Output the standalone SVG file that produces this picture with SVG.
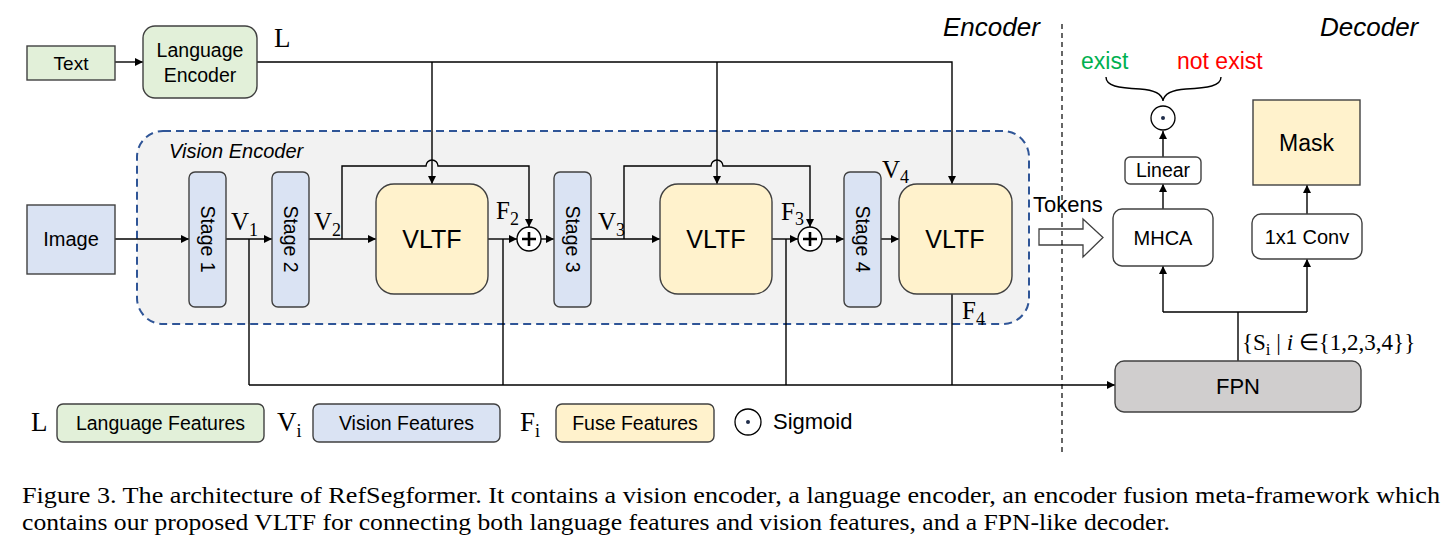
<svg xmlns="http://www.w3.org/2000/svg" width="1450" height="550" viewBox="0 0 1450 550">
<style>
.s{font-family:"Liberation Sans",Arial,sans-serif;fill:#000}
.m{font-family:"Liberation Serif","Times New Roman",serif;fill:#000}
.box{stroke:#404040;stroke-width:1.4}
.ln{fill:none;stroke:#000;stroke-width:1.4}
.g{fill:#e2f0d9}
.b{fill:#dae3f3}
.y{fill:#fff2cc}
.w{fill:#fff}
</style>
<defs>
<marker id="ar" viewBox="0 0 10 10" refX="10" refY="5" markerWidth="9" markerHeight="8" markerUnits="userSpaceOnUse" orient="auto">
<path d="M0,0 L10,5 L0,10 z" fill="#000"/>
</marker>
</defs>
<rect width="1450" height="550" fill="#fff"/>

<g id="vision-encoder">
<rect x="137" y="131" width="892" height="193" rx="26" fill="#f2f2f2" stroke="#2f5597" stroke-width="2" stroke-dasharray="8 5"/>
<text class="s" x="169" y="158" font-size="20" font-style="italic">Vision Encoder</text>
</g>

<g id="connectors">
<line class="ln" x1="115" y1="62" x2="143" y2="62" marker-end="url(#ar)"/>
<polyline class="ln" points="257,62 952,62 952,184" marker-end="url(#ar)"/>
<line class="ln" x1="432" y1="62" x2="432" y2="184" marker-end="url(#ar)"/>
<line class="ln" x1="717" y1="62" x2="717" y2="184" marker-end="url(#ar)"/>
<line class="ln" x1="115" y1="239" x2="189" y2="239" marker-end="url(#ar)"/>
<line class="ln" x1="226" y1="239" x2="272" y2="239" marker-end="url(#ar)"/>
<line class="ln" x1="309" y1="239" x2="376" y2="239" marker-end="url(#ar)"/>
<line class="ln" x1="488" y1="239" x2="517" y2="239" marker-end="url(#ar)"/>
<line class="ln" x1="541" y1="239" x2="554" y2="239" marker-end="url(#ar)"/>
<line class="ln" x1="591" y1="239" x2="660" y2="239" marker-end="url(#ar)"/>
<line class="ln" x1="772" y1="239" x2="798" y2="239" marker-end="url(#ar)"/>
<line class="ln" x1="822" y1="239" x2="844" y2="239" marker-end="url(#ar)"/>
<line class="ln" x1="881" y1="239" x2="899" y2="239" marker-end="url(#ar)"/>
<path class="ln" d="M342,239 V166 H426 A6,6 0 0 1 438,166 H529 V227" marker-end="url(#ar)"/>
<path class="ln" d="M624,239 V166 H711 A6,6 0 0 1 723,166 H810 V227" marker-end="url(#ar)"/>
<line class="ln" x1="249" y1="239" x2="249" y2="385"/>
<line class="ln" x1="503" y1="239" x2="503" y2="385"/>
<line class="ln" x1="786" y1="239" x2="786" y2="385"/>
<line class="ln" x1="952" y1="294" x2="952" y2="385"/>
<line class="ln" x1="249" y1="385" x2="1115" y2="385" marker-end="url(#ar)"/>
<line class="ln" x1="1238" y1="361" x2="1238" y2="312"/>
<polyline class="ln" points="1163,312 1307,312"/>
<line class="ln" x1="1163" y1="312" x2="1163" y2="266" marker-end="url(#ar)"/>
<line class="ln" x1="1307" y1="312" x2="1307" y2="259" marker-end="url(#ar)"/>
<line class="ln" x1="1307" y1="214" x2="1307" y2="185" marker-end="url(#ar)"/>
<line class="ln" x1="1163" y1="209" x2="1163" y2="184" marker-end="url(#ar)"/>
<line class="ln" x1="1163" y1="157" x2="1163" y2="131" marker-end="url(#ar)"/>
<path d="M1039,229 H1083 V219 L1103,237.5 L1083,257 V245 H1039 Z" fill="#fff" stroke="#404040" stroke-width="1.3"/>
<path class="ln" d="M1106,77 C1106,86 1118,88 1140,89 C1156,90 1162,94 1163,101 C1164,94 1170,90 1186,89 C1208,88 1221,86 1221,77" stroke-width="1.6"/>
<line x1="1062" y1="24" x2="1062" y2="452" stroke="#000" stroke-width="1.2" stroke-dasharray="5 4"/>
</g>

<g id="text-node">
<rect class="box g" x="27" y="46" width="88" height="34"/>
<text class="s" x="71" y="70" font-size="19" text-anchor="middle">Text</text>
</g>
<g id="language-encoder">
<rect class="box g" x="143" y="26" width="114" height="72" rx="12"/>
<text class="s" x="200" y="57" font-size="19.5" text-anchor="middle">Language</text>
<text class="s" x="200" y="82" font-size="19.5" text-anchor="middle">Encoder</text>
</g>
<text class="m" x="274" y="47" font-size="27">L</text>

<g id="image-node">
<rect class="box b" x="27" y="205" width="88" height="69"/>
<text class="s" x="71" y="246" font-size="20" text-anchor="middle">Image</text>
</g>

<g id="stage1">
<rect class="box b" x="189" y="172" width="37" height="135" rx="6"/>
<text class="s" font-size="19.5" text-anchor="middle" dominant-baseline="central" transform="translate(207.5,239) rotate(90)">Stage 1</text>
</g>
<g id="stage2">
<rect class="box b" x="272" y="172" width="37" height="135" rx="6"/>
<text class="s" font-size="19.5" text-anchor="middle" dominant-baseline="central" transform="translate(290.5,239) rotate(90)">Stage 2</text>
</g>
<g id="stage3">
<rect class="box b" x="554" y="172" width="37" height="135" rx="6"/>
<text class="s" font-size="19.5" text-anchor="middle" dominant-baseline="central" transform="translate(572.5,239) rotate(90)">Stage 3</text>
</g>
<g id="stage4">
<rect class="box b" x="844" y="172" width="37" height="135" rx="6"/>
<text class="s" font-size="19.5" text-anchor="middle" dominant-baseline="central" transform="translate(862.5,239) rotate(90)">Stage 4</text>
</g>

<g id="vltf1">
<rect class="box y" x="376" y="184" width="112" height="110" rx="18"/>
<text class="s" x="432" y="248" font-size="25" text-anchor="middle">VLTF</text>
</g>
<g id="vltf2">
<rect class="box y" x="660" y="184" width="112" height="110" rx="18"/>
<text class="s" x="716" y="248" font-size="25" text-anchor="middle">VLTF</text>
</g>
<g id="vltf3">
<rect class="box y" x="899" y="184" width="113" height="110" rx="18"/>
<text class="s" x="955" y="248" font-size="25" text-anchor="middle">VLTF</text>
</g>

<g id="plus1">
<circle cx="529" cy="239" r="12" fill="#fff" stroke="#000" stroke-width="1.4"/>
<path d="M522,239 H536 M529,232 V246" stroke="#000" stroke-width="2.6"/>
</g>
<g id="plus2">
<circle cx="810" cy="239" r="12" fill="#fff" stroke="#000" stroke-width="1.4"/>
<path d="M803,239 H817 M810,232 V246" stroke="#000" stroke-width="2.6"/>
</g>

<g id="feature-labels">
<text class="m" x="231" y="230" font-size="25">V<tspan font-size="18" dy="6">1</tspan></text>
<text class="m" x="314" y="230" font-size="25">V<tspan font-size="18" dy="6">2</tspan></text>
<text class="m" x="496" y="219" font-size="25">F<tspan font-size="18" dy="6">2</tspan></text>
<text class="m" x="598" y="230" font-size="25">V<tspan font-size="18" dy="6">3</tspan></text>
<text class="m" x="781" y="220" font-size="25">F<tspan font-size="18" dy="5">3</tspan></text>
<text class="m" x="882" y="178" font-size="25">V<tspan font-size="18" dy="5">4</tspan></text>
<text class="m" x="962" y="319" font-size="25">F<tspan font-size="18" dy="6">4</tspan></text>
</g>

<text class="s" x="943" y="36" font-size="26" font-style="italic">Encoder</text>
<text class="s" x="1320" y="36" font-size="26" font-style="italic">Decoder</text>
<text class="s" x="1033" y="212" font-size="22">Tokens</text>

<g id="mhca">
<rect class="box w" x="1113" y="209" width="100" height="57" rx="9"/>
<text class="s" x="1163" y="245" font-size="20" text-anchor="middle">MHCA</text>
</g>
<g id="linear">
<rect class="box w" x="1125" y="157" width="76" height="27" rx="5"/>
<text class="s" x="1163" y="177" font-size="19.5" text-anchor="middle">Linear</text>
</g>
<g id="sigmoid-op">
<circle cx="1163" cy="118" r="12" fill="#fff" stroke="#000" stroke-width="1.3"/>
<circle cx="1163" cy="118" r="2" fill="#1f2d4a"/>
</g>
<text class="s" x="1081" y="69" font-size="23" style="fill:#00b050">exist</text>
<text class="s" x="1177" y="69" font-size="23" style="fill:#ff0000">not exist</text>
<g id="mask">
<rect class="box y" x="1253" y="100" width="107" height="85" stroke="#202020"/>
<text class="s" x="1306.5" y="151" font-size="23" text-anchor="middle">Mask</text>
</g>
<g id="conv">
<rect class="box w" x="1252" y="214" width="110" height="45" rx="9"/>
<text class="s" x="1307" y="244" font-size="20" text-anchor="middle">1x1 Conv</text>
</g>
<g id="fpn">
<rect class="box" x="1115" y="361" width="246" height="51" rx="9" fill="#d0cece"/>
<text class="s" x="1238" y="394" font-size="22" text-anchor="middle">FPN</text>
</g>
<text class="m" x="1242" y="350" font-size="23">{S<tspan font-size="17" dy="5">i</tspan><tspan dy="-5"> | </tspan><tspan font-style="italic">i</tspan> ∈{1,2,3,4}}</text>

<g id="legend">
<text class="m" x="31" y="431" font-size="27">L</text>
<rect class="box g" x="57" y="404" width="207" height="38" rx="6"/>
<text class="s" x="160.5" y="430" font-size="19.5" text-anchor="middle">Language Features</text>
<text class="m" x="277" y="431" font-size="27">V<tspan font-size="18" dy="6">i</tspan></text>
<rect class="box b" x="313" y="404" width="187" height="38" rx="6"/>
<text class="s" x="406.5" y="430" font-size="19.5" text-anchor="middle">Vision Features</text>
<text class="m" x="520" y="431" font-size="27">F<tspan font-size="18" dy="6">i</tspan></text>
<rect class="box y" x="556" y="404" width="158" height="38" rx="6"/>
<text class="s" x="635" y="430" font-size="19.5" text-anchor="middle">Fuse Features</text>
<circle cx="748" cy="422" r="13" fill="#fff" stroke="#000" stroke-width="1.3"/>
<circle cx="748" cy="422" r="2" fill="#1f2d4a"/>
<text class="s" x="773" y="429" font-size="22">Sigmoid</text>
</g>

<g id="caption">
<text class="m" x="22" y="503" font-size="24" textLength="1418" lengthAdjust="spacingAndGlyphs">Figure 3. The architecture of RefSegformer. It contains a vision encoder, a language encoder, an encoder fusion meta-framework which</text>
<text class="m" x="22" y="530" font-size="24" textLength="1148" lengthAdjust="spacingAndGlyphs">contains our proposed VLTF for connecting both language features and vision features, and a FPN-like decoder.</text>
</g>
</svg>
